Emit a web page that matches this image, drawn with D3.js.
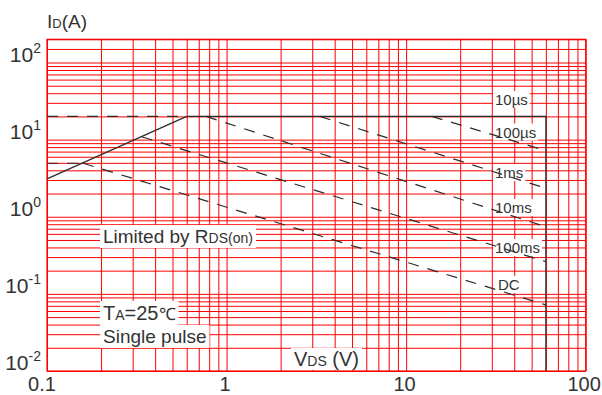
<!DOCTYPE html>
<html>
<head>
<meta charset="utf-8">
<script src="https://cdn.jsdelivr.net/npm/d3@7"></script>
<style>
  body { margin: 0; background: #fff; }
  svg { display: block; font-family: "Liberation Sans", Arial, sans-serif; }
  .grid line { stroke: #ff0000; stroke-width: 1; }
  .grid path { display: none; }
  .curve { fill: none; stroke: #2b2b2b; stroke-width: 1.2; }
  .dash { stroke-dasharray: 11, 9; }
  text { fill: #333; }
</style>
</head>
<body>
<svg width="602" height="395"></svg>
<script>
// axis decades and tick labels
var xDecades = [0.1, 1, 10, 100];
var xLabels = ["0.1", "1", "10", "100"];
var yDecades = [0.01, 0.1, 1, 10, 100];
var yExponents = ["-2", "-1", "0", "1", "2"];

// SOA boundaries, [VDS, ID]
var rdsLimit = [[0.1, 3.1], [0.6, 20]];
var pulse10us = [[0.6, 20], [60, 20], [60, 0.01]];
var pulse100us = [[13.9, 20], [60, 7.2]];
var pulse1ms = [[3.31, 20], [60, 2.34]];
var pulse10ms = [[0.77, 20], [60, 0.74]];
var pulse100ms = [[0.337, 10.9], [60, 0.262]];
var dcLine = [[0.159, 4.94], [60, 0.072]];
var currentLimit = [[0.1, 20], [0.6, 20]];
var dcLimit = [[0.1, 4.94], [0.159, 4.94]];

var curveNames = ["10µs", "100µs", "1ms", "10ms", "100ms", "DC"];

var svg = d3.select("svg");
var mLeft = 47, mRight = 585.7, mTop = 39.3, mBottom = 371;

var x = d3.scaleLog().domain([0.1, 100]).range([mLeft, mRight]);
var y = d3.scaleLog().domain([0.01, 200]).range([mBottom, mTop]);

function minorTicks(from, to) {
    var out = [];
    for (var d = from; d < to * 1.0001; d *= 10) {
        for (var k = 1; k < 10; k++) {
            var v = d * k;
            if (v <= to * 1.0001) out.push(v);
        }
    }
    return out;
}
var xGrid = minorTicks(0.1, 100);
var yGrid = minorTicks(0.01, 200).concat([150]);

svg.append("g")
    .attr("class", "grid")
    .attr("transform", "translate(0," + mBottom + ")")
    .call(d3.axisBottom(x).tickValues(xGrid).tickSize(-(mBottom - mTop)).tickFormat(""));

svg.append("g")
    .attr("class", "grid")
    .attr("transform", "translate(" + mLeft + ",0)")
    .call(d3.axisLeft(y).tickValues(yGrid).tickSize(-(mRight - mLeft)).tickFormat(""));

svg.append("rect")
    .attr("x", mLeft).attr("y", mTop)
    .attr("width", mRight - mLeft).attr("height", mBottom - mTop)
    .attr("fill", "none").attr("stroke", "#ff0000").attr("stroke-width", 1.2);

// labels with white boxes
function label(g, px, py, parts, pad) {
    var t = g.append("text").attr("x", px).attr("y", py);
    parts.forEach(function (p) {
        t.append("tspan")
            .attr("font-size", p[1])
            .text(p[0]);
    });
    var b = t.node().getBBox();
    g.insert("rect", "text")
        .attr("x", b.x - pad[0]).attr("y", b.y - pad[1])
        .attr("width", b.width + pad[0] * 2).attr("height", b.height + pad[1] * 2)
        .attr("fill", "#fff");
    return t;
}

var boxes = svg.append("g");
var lines = svg.append("g");
var texts = svg.append("g");

var labelPos = [[495, 105], [495, 137.5], [495, 178], [495, 213], [495, 253], [498, 290]];
curveNames.forEach(function (n, i) {
    label(boxes, labelPos[i][0], labelPos[i][1], [[n, 15]], [2, 0]);
});
label(boxes, 103, 243, [["Limited by R", 19], ["DS(on)", 14]], [3, 1]);
label(boxes, 103, 320, [["T", 20], ["A", 14], ["=25", 20], ["\u2103", 17]], [3, 1]);
label(boxes, 103, 343, [["Single pulse", 19]], [3, 1]);
label(boxes, 294, 366, [["V", 20], ["DS", 14], [" (V)", 20]], [3, 0]);

// move texts above the black lines
boxes.selectAll("text").each(function () { texts.node().appendChild(this); });

var line = d3.line().x(function (d) { return x(d[0]); }).y(function (d) { return y(d[1]); });

lines.append("path").datum(rdsLimit).attr("class", "curve").attr("d", line);
lines.append("path").datum(pulse10us).attr("class", "curve").attr("d", line);
[pulse100us, pulse1ms, pulse10ms, pulse100ms, dcLine, currentLimit, dcLimit].forEach(function (c) {
    lines.append("path").datum(c).attr("class", "curve dash").attr("d", line);
});

// tick labels
var axisText = svg.append("g");
xDecades.forEach(function (v, i) {
    axisText.append("text")
        .attr("x", x(v) + (i == 0 ? -5 : -1.5))
        .attr("y", 391)
        .attr("text-anchor", "middle")
        .attr("font-size", 20)
        .text(xLabels[i]);
});
yDecades.forEach(function (v, i) {
    var t = axisText.append("text")
        .attr("x", 41)
        .attr("y", y(v) - 1)
        .attr("text-anchor", "end");
    t.append("tspan").attr("font-size", 21).text("10");
    t.append("tspan").attr("font-size", 14).attr("dy", -9).text(yExponents[i]);
});

var yt = axisText.append("text").attr("x", 47).attr("y", 28);
yt.append("tspan").attr("font-size", 19).text("I");
yt.append("tspan").attr("font-size", 13).text("D");
yt.append("tspan").attr("font-size", 19).text("(A)");
</script>
</body>
</html>
